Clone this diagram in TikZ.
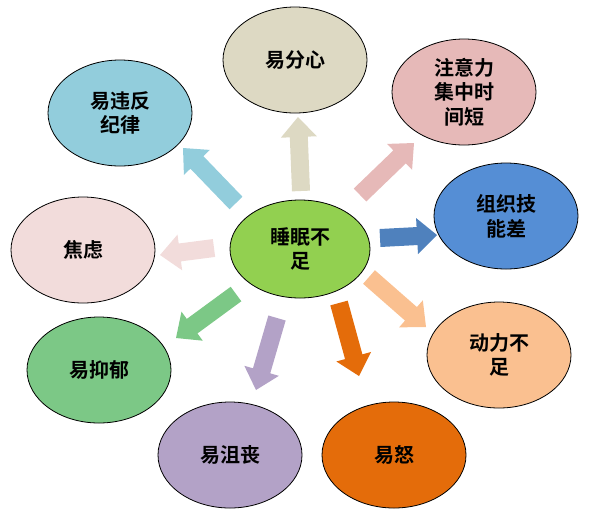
\documentclass[tikz,border=0pt]{standalone}
\usepackage{fontspec}
\newfontfamily\cjk{Noto Sans CJK SC}[BoldFont={Noto Sans CJK SC Bold}]
\usetikzlibrary{shapes.geometric,calc}
\definecolor{cblue}{HTML}{92CDDC}
\definecolor{cbeige}{HTML}{DDD9C3}
\definecolor{cpink}{HTML}{E6B9B8}
\definecolor{cdblue}{HTML}{558ED5}
\definecolor{cdarrow}{HTML}{4F81BD}
\definecolor{clorange}{HTML}{FAC090}
\definecolor{corange}{HTML}{E46C0A}
\definecolor{clav}{HTML}{B3A2C7}
\definecolor{cgreen}{HTML}{7CC886}
\definecolor{clpink}{HTML}{F2DCDB}
\definecolor{ccenter}{HTML}{92D050}
\newcommand\blockarrow[3]{%
  \coordinate (ha) at ($(#3)!15pt!(#2)$);
  \fill[#1] ($(#2)!6.75pt!90:(#3)$) -- ($(ha)!6.75pt!90:(#3)$) -- ($(ha)!13.5pt!90:(#3)$)
    -- (#3) -- ($(ha)!13.5pt!-90:(#3)$) -- ($(ha)!6.75pt!-90:(#3)$) -- ($(#2)!6.75pt!-90:(#3)$) -- cycle;
}
\begin{document}
\begin{tikzpicture}[x=0.75pt,y=-0.75pt,
  bubble/.style={ellipse,draw=black,line width=0.6pt,inner sep=0pt,
    minimum width=108pt,minimum height=79.5pt,align=center,
    font=\cjk\bfseries\fontsize{15pt}{18.5pt}\selectfont}]
\useasboundingbox (0,0) rectangle (591,522);
% arrows
\coordinate (t1) at (236,203); \coordinate (p1) at (183,148);
\coordinate (t2) at (301,191); \coordinate (p2) at (298,117);
\coordinate (t3) at (360,195); \coordinate (p3) at (414,143);
\coordinate (t4) at (380,238); \coordinate (p4) at (437,235);
\coordinate (t5) at (369,277); \coordinate (p5) at (426,327);
\coordinate (t6) at (339,303); \coordinate (p6) at (359,376);
\coordinate (t7) at (277,318); \coordinate (p7) at (256,390);
\coordinate (t8) at (236,294); \coordinate (p8) at (176,338);
\coordinate (t9) at (214,248); \coordinate (p9) at (160,255);
\blockarrow{cblue}{t1}{p1}
\blockarrow{cbeige}{t2}{p2}
\blockarrow{cpink}{t3}{p3}
\blockarrow{cdarrow}{t4}{p4}
\blockarrow{clorange}{t5}{p5}
\blockarrow{corange}{t6}{p6}
\blockarrow{clav}{t7}{p7}
\blockarrow{cgreen}{t8}{p8}
\blockarrow{clpink}{t9}{p9}
% ellipses
\node[bubble,fill=ccenter,minimum width=105pt,minimum height=73.5pt] (c) at (300,249) {睡眠不\\足};
\node[bubble,fill=cblue] (n1) at (120,113) {易违反\\纪律};
\node[bubble,fill=cbeige] (n2) at (295,60) {易分心};
\node[bubble,fill=cpink] (n3) at (464,92) {注意力\\集中时\\间短};
\node[bubble,fill=cdblue] (n4) at (506,216) {组织技\\能差};
\node[bubble,fill=clorange] (n5) at (499,355) {动力不\\足};
\node[bubble,fill=corange] (n6) at (394,455) {易怒};
\node[bubble,fill=clav] (n7) at (230,455) {易沮丧};
\node[bubble,fill=cgreen] (n8) at (99,370) {易抑郁};
\node[bubble,fill=clpink] (n9) at (83,250) {焦虑};
\end{tikzpicture}
\end{document}
